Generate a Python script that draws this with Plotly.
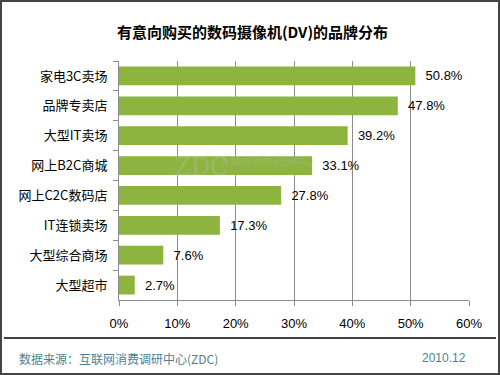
import plotly.graph_objects as go

categories = ["家电3C卖场", "品牌专卖店", "大型IT卖场", "网上B2C商城", "网上C2C数码店",
              "IT连锁卖场", "大型综合商场", "大型超市"]
values = [50.8, 47.8, 39.2, 33.1, 27.8, 17.3, 7.6, 2.7]
x_ticks = [0, 10, 20, 30, 40, 50, 60]
x_tick_labels = ["0%", "10%", "20%", "30%", "40%", "50%", "60%"]

W, H = 500, 375
L, R, T, B = 119, 31, 61, 75
pw, ph = W - L - R, H - T - B

def px(x):
    return (x - L) / pw

def py(y):
    return (H - B - y) / ph

fig = go.Figure()
fig.add_trace(go.Bar(
    y=categories, x=values, orientation="h",
    marker=dict(color="#8cb43f", line=dict(width=0)),
    width=0.63,
    text=[f"{v:.1f}%" for v in values],
    texttemplate="  %{text}",
    textposition="outside",
    textfont=dict(family="Liberation Sans, Arial, sans-serif", size=13, color="#000000"),
    cliponaxis=False,
    hoverinfo="skip",
))

fig.update_layout(
    width=W, height=H,
    margin=dict(l=L, r=R, t=T, b=B),
    paper_bgcolor="white", plot_bgcolor="white",
    showlegend=False,
    title=dict(text="<b>有意向购买的数码摄像机(DV)的品牌分布</b>",
               x=0.505, xanchor="center", y=1 - 33 / H, yanchor="middle",
               font=dict(family="Noto Sans CJK SC", size=15, color="#000000")),
    xaxis=dict(range=[0, 60], tickvals=x_ticks, ticktext=x_tick_labels,
               showgrid=True, gridcolor="#8c8c8c", gridwidth=1,
               ticks="outside", ticklen=5, tickcolor="#8c8c8c",
               showline=True, linecolor="#8c8c8c", linewidth=1,
               zeroline=False, ticklabelstandoff=6,
               tickfont=dict(family="Liberation Sans, Arial, sans-serif", size=13, color="#000000")),
    yaxis=dict(autorange="reversed", tickson="boundaries",
               ticks="outside", ticklen=5, tickcolor="#8c8c8c",
               showline=True, linecolor="#8c8c8c", linewidth=1,
               showgrid=False, ticklabelstandoff=8,
               tickfont=dict(family="Noto Sans CJK SC", size=13, color="#000000")),
    bargap=0.37,
)

# watermark (faint, as in the reference)
fig.add_annotation(x=px(172), y=py(167), xref="paper", yref="paper",
                   text="ZDC", showarrow=False,
                   font=dict(family="DejaVu Serif", size=24, color="rgba(190,190,190,0.35)"))
fig.add_annotation(x=px(218), y=py(160), xref="paper", yref="paper",
                   xanchor="left", text="互联网消费调研中心", showarrow=False,
                   font=dict(family="Noto Sans CJK SC", size=10.5, color="rgba(190,190,190,0.35)"))

# footer line and texts
fig.add_shape(type="line", xref="paper", yref="paper",
              x0=px(4), x1=px(496), y0=py(338), y1=py(338),
              line=dict(color="#000000", width=1.5))
fig.add_annotation(x=px(17), y=py(358), xref="paper", yref="paper",
                   xanchor="left", yanchor="middle", showarrow=False,
                   text="数据来源：互联网消费调研中心(ZDC)",
                   font=dict(family="Noto Sans CJK SC", size=12, color="#4f7f90"))
fig.add_annotation(x=px(468), y=py(358), xref="paper", yref="paper",
                   xanchor="right", yanchor="middle", showarrow=False,
                   text="2010.12",
                   font=dict(family="Liberation Sans, Arial, sans-serif", size=12, color="#4f7f90"))
# outer border
fig.add_shape(type="rect", xref="paper", yref="paper",
              x0=px(1), x1=px(499), y0=py(374), y1=py(1),
              line=dict(color="#444444", width=2))

fig.write_html("out.html", config={"displayModeBar": False},
               post_script="document.body.style.margin='0';document.body.style.padding='0';")
